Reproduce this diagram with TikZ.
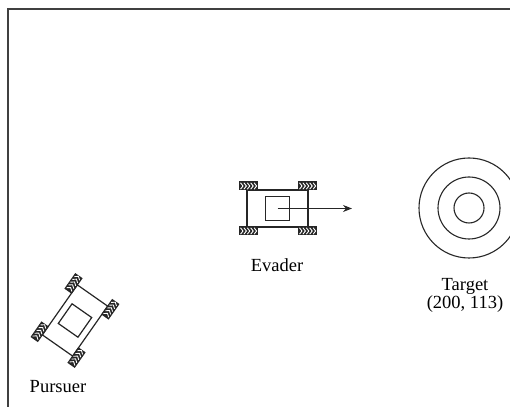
\documentclass[tikz,border=0pt]{standalone}
\usepackage{fontspec}
\setmainfont{Liberation Serif}
\usetikzlibrary{arrows.meta}

\newcommand{\wheelat}[2]{%
    \begin{scope}[shift={(#1,#2)}]
        \fill[black!85] (-9.5,-4.5) rectangle (9.5,4.5);
        \foreach \k in {0,...,4}
            \draw[white, line width=0.9pt]
                (-7.5+3.4*\k,3.2) -- (-5+3.4*\k,0) -- (-7.5+3.4*\k,-3.2);
    \end{scope}%
}

\begin{document}
\begin{tikzpicture}[
    x=1pt,
    y=1pt,
    frame line/.style={
        draw=black!75,
        line width=1.8pt
    },
    body line/.style={
        draw=black!85,
        line width=1.2pt
    },
    ring/.style={
        draw=black!85,
        line width=1.1pt
    },
    label text/.style={
        font=\fontsize{18.5}{18}\selectfont,
        align=center,
        inner sep=0pt
    },
    heading/.style={
        -{Stealth[length=9pt,width=7pt]},
        draw=black!85,
        line width=1.1pt
    },
    robot/.pic={
        \draw[body line] (-30.5,-18.5) rectangle (30.5,18.5);
        \draw[body line] (-12,-12) rectangle (12,12);
        \foreach \wx in {-29.5,29.5}
            \foreach \wy in {-22.5,22.5}
                \wheelat{\wx}{\wy};
        \coordinate (-center) at (0,0);
    }
]

\def\ringA{15}
\def\ringB{31}
\def\ringC{50}

\useasboundingbox (0,0) rectangle (510,406);
\clip (0,0) rectangle (510,406);

%% --- Arena ---
\draw[frame line] (8,-20) rectangle (530,397);

%% --- Target ---
\coordinate (target) at (469,198);
\draw[ring] (target) circle (\ringA);
\draw[ring] (target) circle (\ringB);
\draw[ring] (target) circle (\ringC);
\node[label text] (target label) at (465,111) {Target\\(200, 113)};

%% --- Evader ---
\pic (evader) at (277.5,197.5) {robot};
\coordinate (evader head) at (352,197.5);
\draw[heading] (evader-center) -- (evader head);
\node[label text, anchor=base] (evader label) at (277,134) {Evader};

%% --- Pursuer ---
\pic[rotate=55] (pursuer) at (75,85.5) {robot};
\node[label text, anchor=base] (pursuer label) at (58,14) {Pursuer};

\end{tikzpicture}
\end{document}
